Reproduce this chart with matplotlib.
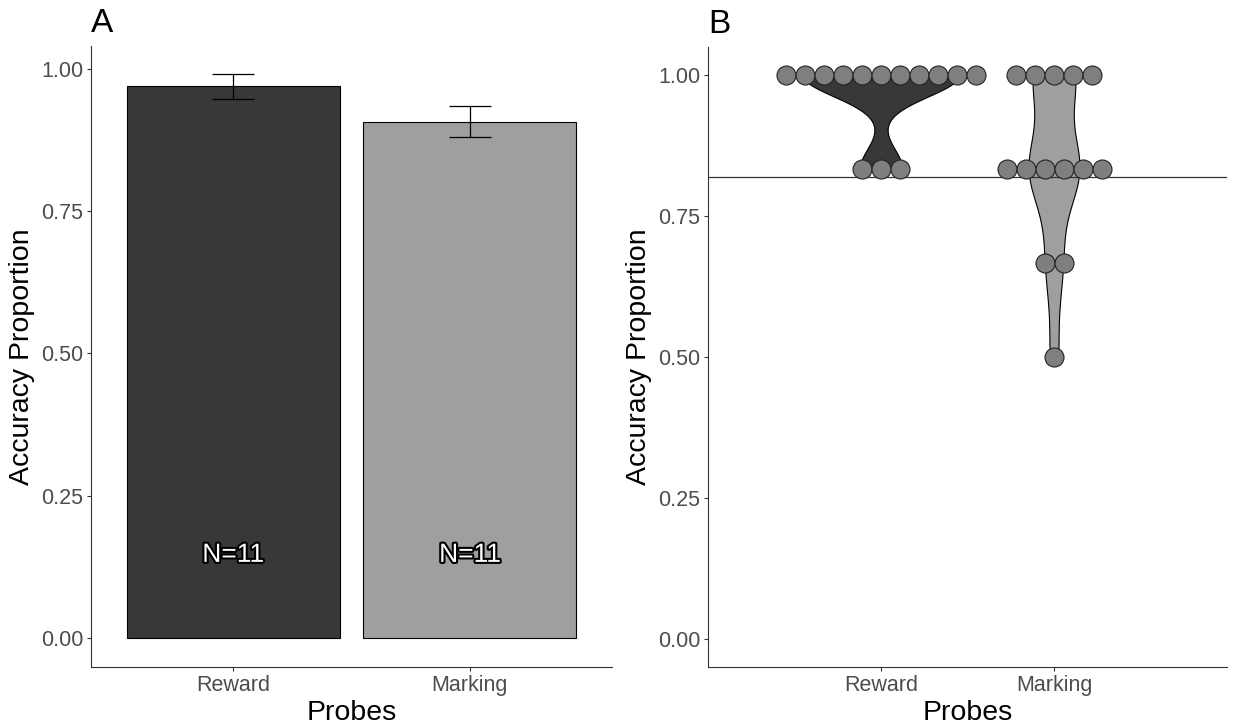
import numpy as np
import matplotlib
matplotlib.use("Agg")
from matplotlib import pyplot as plt
from matplotlib import patheffects as pe

plt.rcParams['font.family'] = ['Liberation Sans', 'DejaVu Sans']

# panel A: summary bars
probes = ["Reward", "Marking"]
bar_means = [0.969, 0.906]
bar_lo = [0.947, 0.881]
bar_hi = [0.991, 0.934]
n_labels = ["N=11", "N=11"]

# panel B: individual accuracy values (value, count)
reward_vals = [1.0, 0.8333]
reward_counts = [11, 3]
marking_vals = [1.0, 0.8333, 0.6667, 0.5]
marking_counts = [5, 6, 2, 1]
chance_line = 0.82

fills = ["#383838", "#9f9f9f"]
dot_fill = "#7f7f7f"
tick_col = "#4d4d4d"

W, H = 1235, 725
fig = plt.figure(figsize=(W / 100, H / 100), dpi=100)
axA = fig.add_axes([91 / W, 1 - 667 / H, (612 - 91) / W, (667 - 46) / H])
axB = fig.add_axes([708 / W, 1 - 667 / H, (1227 - 708) / W, (667 - 47) / H])


def style(ax):
    for s in ["top", "right"]:
        ax.spines[s].set_visible(False)
    for s in ["left", "bottom"]:
        ax.spines[s].set_linewidth(0.8)
        ax.spines[s].set_color("#333333")
    ax.tick_params(length=3, width=0.8, color="#333333", labelcolor=tick_col,
                   labelsize=15.5, pad=2.5)
    ax.set_yticks([0, 0.25, 0.5, 0.75, 1.0])
    ax.set_yticklabels(["0.00", "0.25", "0.50", "0.75", "1.00"])
    ax.set_ylabel("Accuracy Proportion", fontsize=20.5, labelpad=4)
    ax.set_xlabel("Probes", fontsize=20.5, labelpad=3)


# ---- panel A ----
xpos = np.arange(1, len(probes) + 1)
axA.bar(xpos, bar_means, width=0.9, color=fills, edgecolor="black", linewidth=0.8)
axA.vlines(xpos, bar_lo, bar_hi, color="black", linewidth=0.9)
axA.hlines(bar_lo, xpos - 0.09, xpos + 0.09, color="black", linewidth=0.9)
axA.hlines(bar_hi, xpos - 0.09, xpos + 0.09, color="black", linewidth=0.9)
for x, lab in zip(xpos, n_labels):
    axA.text(x, 0.146, lab, ha="center", va="center", fontsize=19, color="white",
             path_effects=[pe.withStroke(linewidth=3, foreground="black")])
axA.set_xlim(0.4, 2.6)
axA.set_ylim(-0.051, 1.04)
axA.set_xticks(xpos)
axA.set_xticklabels(probes)
style(axA)
axA.text(0.0, 1.012, "A", transform=axA.transAxes, fontsize=24, ha="left", va="bottom")


# ---- panel B ----
def nrd0(x):
    hi = np.std(x, ddof=1)
    q75, q25 = np.percentile(x, [75, 25])
    lo = min(hi, (q75 - q25) / 1.34)
    if not lo:
        lo = hi
    return 0.9 * lo * len(x) ** -0.2


groups = [(reward_vals, reward_counts), (marking_vals, marking_counts)]
dens = []
for vals, counts in groups:
    x = np.repeat(vals, counts)
    bw = nrd0(x)
    grid = np.linspace(x.min(), x.max(), 512)
    d = np.exp(-0.5 * ((grid[:, None] - x[None, :]) / bw) ** 2).sum(axis=1)
    d = d / (len(x) * bw * np.sqrt(2 * np.pi))
    dens.append((grid, d))
dmax = max(d.max() for _, d in dens)

axB.set_xlim(0.0, 3.0)
axB.set_ylim(-0.05, 1.05)
for x0, (grid, d), fc in zip(xpos, dens, fills):
    hw = 0.45 * d / dmax
    axB.fill_betweenx(grid, x0 - hw, x0 + hw, facecolor=fc, edgecolor="black",
                      linewidth=0.8, zorder=1)

axB.axhline(chance_line, color="#333333", linewidth=0.9, zorder=2)

# dot diameter in x data units (19 px)
diam_px = 19
px_per_unit = axB.get_position().width * W / 3.0
dd = diam_px / px_per_unit
for x0, (vals, counts) in zip(xpos, groups):
    for v, c in zip(vals, counts):
        xs = x0 + (np.arange(c) - (c - 1) / 2) * dd
        axB.scatter(xs, np.full(c, v), s=(diam_px * 0.72) ** 2, facecolor=dot_fill,
                    edgecolor="#222222", linewidth=0.8, zorder=3)

axB.set_xticks(xpos)
axB.set_xticklabels(probes)
style(axB)
axB.text(0.0, 1.012, "B", transform=axB.transAxes, fontsize=24, ha="left", va="bottom")

fig.savefig("out.png", dpi=100)
